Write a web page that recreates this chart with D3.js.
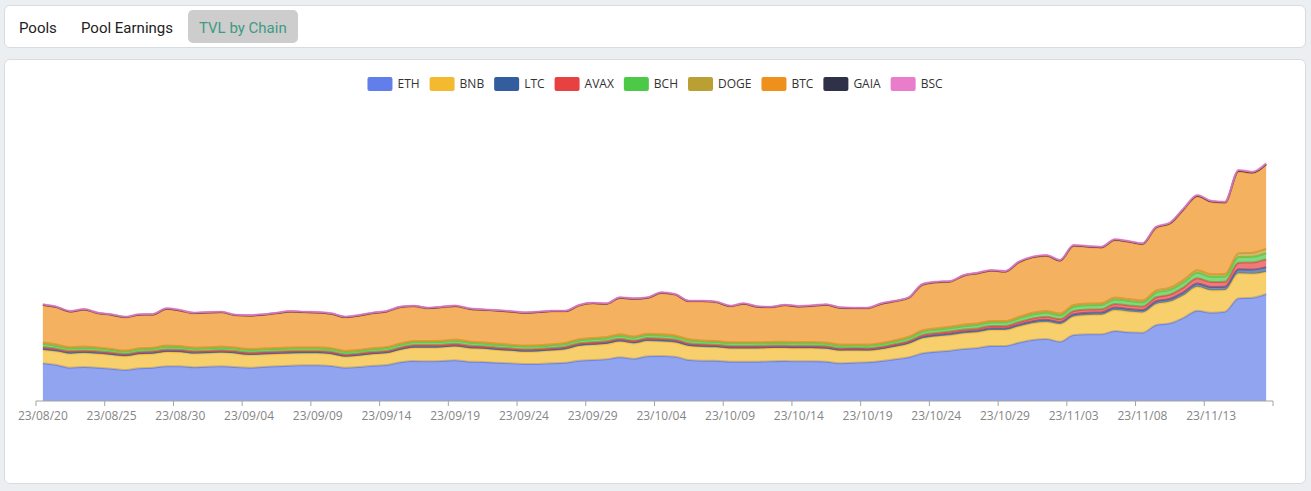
<!DOCTYPE html>
<html>
<head>
<meta charset="utf-8">
<script src="https://cdn.jsdelivr.net/npm/d3@7"></script>
<style>
  html, body { margin: 0; padding: 0; width: 1311px; height: 491px; overflow: hidden; background: #eceff1; font-family: Roboto, "Liberation Sans", sans-serif; }
  .tabs { position: absolute; left: 4px; top: 5px; width: 1300px; height: 41px; background: #fff; border: 1px solid #d9dcdf; border-radius: 6px; }
  .tab { position: absolute; top: 4px; height: 31px; padding-top: 2px; line-height: 33px; font-size: 15px; color: #222; padding-left: 11px; padding-right: 11px; border-radius: 5px; white-space: nowrap; }
  .tab.active { background: #cdcdcd; color: #3f9a84; }
  .card { position: absolute; left: 4px; top: 59px; width: 1300px; height: 423px; background: #fff; border: 1px solid #d9dcdf; border-radius: 6px; }
  #chart { position: absolute; left: 0; top: 0; }
</style>
</head>
<body>
<div class="tabs">
  <div class="tab" style="left:3px">Pools</div>
  <div class="tab" style="left:65px">Pool Earnings</div>
  <div class="tab active" style="left:183px">TVL by Chain</div>
</div>
<div class="card"></div>
<svg id="chart" width="1311" height="491"></svg>
<script>
// categories: one per day, 23/08/20 .. 23/11/17
const dates = [
  "23/08/20","23/08/21","23/08/22","23/08/23","23/08/24","23/08/25","23/08/26","23/08/27","23/08/28","23/08/29",
  "23/08/30","23/08/31","23/09/01","23/09/02","23/09/03","23/09/04","23/09/05","23/09/06","23/09/07","23/09/08",
  "23/09/09","23/09/10","23/09/11","23/09/12","23/09/13","23/09/14","23/09/15","23/09/16","23/09/17","23/09/18",
  "23/09/19","23/09/20","23/09/21","23/09/22","23/09/23","23/09/24","23/09/25","23/09/26","23/09/27","23/09/28",
  "23/09/29","23/09/30","23/10/01","23/10/02","23/10/03","23/10/04","23/10/05","23/10/06","23/10/07","23/10/08",
  "23/10/09","23/10/10","23/10/11","23/10/12","23/10/13","23/10/14","23/10/15","23/10/16","23/10/17","23/10/18",
  "23/10/19","23/10/20","23/10/21","23/10/22","23/10/23","23/10/24","23/10/25","23/10/26","23/10/27","23/10/28",
  "23/10/29","23/10/30","23/10/31","23/11/01","23/11/02","23/11/03","23/11/04","23/11/05","23/11/06","23/11/07",
  "23/11/08","23/11/09","23/11/10","23/11/11","23/11/12","23/11/13","23/11/14","23/11/15","23/11/16","23/11/17"
];

const chains = ["ETH", "BNB", "LTC", "AVAX", "BCH", "DOGE", "BTC", "GAIA", "BSC"];
const colors = ["#627eea", "#f3ba2f", "#345d9d", "#e84142", "#4cc947", "#ba9f33", "#f0901c", "#2e3148", "#ea7ccc"];

// TVL per chain (arbitrary units)
const eth = [
  37.7,36,33.3,34,33.3,32.3,31,32.7,33.3,34.7,
  34.7,33.7,34.3,34.7,34,33.3,34,34.7,35.3,35.7,
  35.7,35,33.3,34,35.3,36,38.7,40,39.7,40,
  40.7,39.3,39,38.3,37.7,37,37,37.7,38.3,40.3,
  41,41.7,43.7,42.3,44.7,45,44.3,41,40.3,40.3,
  39.3,39.3,39.3,39.7,40,39.7,39.7,39.3,37.7,38.3,
  38.7,40,41.7,43.7,47.7,49.3,50.3,52,53,55,
  55,58.3,61,62,59.3,66,66.7,66.7,70,68.7,
  68.3,76,77.7,83.3,90.3,88.3,89.3,102.7,103.3,107
];
const bnb = [
  13.3,13.5,14,14,14,13.7,13.7,14,14,14.3,
  14,13.7,13.5,13.7,13.5,12.7,12.5,12.3,12.2,12,
  12,11.8,11,11.3,11.5,11.7,12.3,13.3,13.5,13.5,
  13.7,13.5,13.2,12.8,12.5,12.3,12.5,12.8,13.3,14.7,
  15,15.2,15.7,15.3,15.3,14.5,14.3,14,13.8,13.5,
  13.3,13.3,13.2,13.2,13,13,13,12.9,12.7,12.2,
  11.7,11.7,12.5,13.5,15,15.3,15.5,15.7,15.8,16,
  16,16.3,16.7,17,17.7,18.5,19.3,19.5,21,20.8,
  20.3,21,21.7,22.5,24,22.5,21.7,25,24,22.3
];
const ltc = [
  1.5,1.4,1.3,1.3,1.3,1.2,1.2,1.2,1.2,1.3,
  1.3,1.2,1.2,1.2,1.2,1.2,1.2,1.2,1.2,1.2,
  1.2,1.2,1.1,1.1,1.2,1.2,1.3,1.3,1.3,1.3,
  1.4,1.3,1.3,1.2,1.2,1.2,1.2,1.2,1.3,1.3,
  1.4,1.4,1.4,1.4,1.4,1.4,1.4,1.3,1.3,1.2,
  1.2,1.2,1.2,1.2,1.2,1.2,1.2,1.2,1.2,1.2,
  1.2,1.2,1.3,1.4,1.6,1.6,1.7,1.7,1.7,1.8,
  1.8,1.9,2.1,2.2,2.1,2.3,2.3,2.3,2.5,2.5,
  2.4,2.7,2.8,3.1,3.3,3.2,3.2,4,4.2,4.6
];
const avax = [
  1.5,1.4,1.3,1.3,1.2,1.2,1.1,1.2,1.2,1.3,
  1.2,1.2,1.2,1.2,1.2,1.2,1.2,1.2,1.2,1.2,
  1.2,1.2,1.2,1.2,1.2,1.2,1.3,1.4,1.4,1.4,
  1.4,1.4,1.3,1.3,1.3,1.3,1.3,1.3,1.3,1.4,
  1.4,1.4,1.5,1.4,1.5,1.5,1.4,1.4,1.3,1.3,
  1.3,1.3,1.3,1.3,1.3,1.3,1.3,1.3,1.2,1.2,
  1.2,1.3,1.4,1.5,1.8,1.9,2,2,2.1,2.2,
  2.2,2.4,2.8,3,2.8,3.2,3.2,3.2,3.6,3.6,
  3.4,4,4.2,4.8,5.2,5,5,6.6,7,7.8
];
const bch = [
  3,2.8,2.6,2.6,2.6,2.5,2.4,2.5,2.5,2.7,
  2.6,2.5,2.5,2.5,2.5,2.5,2.5,2.5,2.5,2.5,
  2.5,2.5,2.4,2.4,2.5,2.6,2.7,2.8,2.8,2.8,
  2.9,2.8,2.7,2.6,2.6,2.6,2.6,2.6,2.7,2.8,
  2.9,2.9,3,2.9,3,3,2.9,2.8,2.7,2.6,
  2.6,2.6,2.6,2.6,2.6,2.6,2.6,2.6,2.5,2.5,
  2.5,2.5,2.6,2.8,3.1,3.2,3.3,3.4,3.4,3.5,
  3.5,3.6,3.9,4,3.9,4.2,4.2,4.2,4.5,4.5,
  4.3,4.7,4.8,5.1,5.4,5.3,5.3,5.6,5.8,6
];
const doge = [
  1.5,1.4,1.3,1.3,1.2,1.1,1,1.1,1.1,1.2,
  1.2,1.1,1.1,1.1,1.1,1.1,1.1,1.1,1.1,1.1,
  1.1,1.1,1.1,1.1,1.1,1.2,1.2,1.3,1.3,1.3,
  1.3,1.3,1.2,1.2,1.1,1.1,1.1,1.2,1.2,1.3,
  1.3,1.3,1.4,1.3,1.4,1.4,1.3,1.3,1.2,1.2,
  1.1,1.1,1.1,1.1,1.1,1.1,1.1,1.1,1.1,1.1,
  1.1,1.2,1.2,1.3,1.5,1.5,1.5,1.6,1.6,1.5,
  1.5,1.6,1.7,1.8,1.7,1.8,1.8,1.8,1.9,1.9,
  1.9,2.1,2.2,2.5,2.6,2.5,2.5,3.8,4,4.6
];
const btc = [
  37.5,37.1,35.5,36.8,34,34,33.2,33.3,33,36.5,
  35.3,34.2,34.5,34.2,32.1,33.3,33.5,34.6,35.8,34.9,
  34.6,34.2,33.5,34.2,34.8,35.4,36.1,34.5,32.6,33.3,
  33.4,32.4,32.3,32.9,32.9,32.5,32.9,32.8,31.5,33.5,
  34.6,33.1,36.3,37.4,35.7,41.2,40.7,37.8,39,38.5,
  35.8,38.2,35.3,34.5,36.4,35.4,36.1,37.6,36.6,36.1,
  36.2,39.1,38.9,38.8,45.5,45.7,44.9,48.8,49.9,50.2,
  49.2,54.3,55.2,55.1,52.6,59,56.5,55.6,57.2,57,
  56.1,62.7,63.8,70.2,74,72.3,71.1,81.9,79.6,84
];
const gaia = [
  0.3,0.3,0.3,0.3,0.3,0.3,0.3,0.3,0.3,0.3,
  0.3,0.3,0.3,0.3,0.3,0.3,0.3,0.3,0.3,0.3,
  0.3,0.3,0.3,0.3,0.3,0.3,0.3,0.3,0.3,0.3,
  0.3,0.3,0.3,0.3,0.3,0.3,0.3,0.3,0.3,0.3,
  0.3,0.3,0.3,0.3,0.3,0.3,0.3,0.3,0.3,0.3,
  0.3,0.3,0.3,0.3,0.3,0.3,0.3,0.3,0.3,0.3,
  0.3,0.3,0.3,0.3,0.35,0.35,0.35,0.35,0.35,0.35,
  0.35,0.45,0.45,0.45,0.45,0.45,0.45,0.45,0.45,0.45,
  0.45,0.55,0.55,0.55,0.55,0.55,0.55,0.7,0.7,0.7
];
const bsc = [
  0.4,0.4,0.4,0.4,0.4,0.4,0.4,0.4,0.4,0.4,
  0.4,0.4,0.4,0.4,0.4,0.4,0.4,0.4,0.4,0.4,
  0.4,0.4,0.4,0.4,0.4,0.4,0.4,0.4,0.4,0.4,
  0.4,0.4,0.4,0.4,0.4,0.4,0.4,0.4,0.4,0.4,
  0.4,0.4,0.4,0.4,0.4,0.4,0.4,0.4,0.4,0.4,
  0.4,0.4,0.4,0.4,0.4,0.4,0.4,0.4,0.4,0.4,
  0.4,0.4,0.4,0.4,0.45,0.45,0.45,0.45,0.45,0.45,
  0.45,0.55,0.55,0.55,0.55,0.55,0.55,0.55,0.55,0.55,
  0.55,0.55,0.55,0.55,0.55,0.55,0.55,0.7,0.7,0.7
];
const seriesValues = [eth, bnb, ltc, avax, bch, doge, btc, gaia, bsc];

// 组装成行数据给 d3.stack 用
const rows = dates.map((d, i) => {
  const r = { date: d };
  chains.forEach((c, k) => { r[c] = seriesValues[k][i]; });
  return r;
});

const svg = d3.select('#chart');

const plot = { left: 36, right: 1273, top: 101, bottom: 401 };
const yMax = 300;

const x = d3.scaleBand().domain(dates).range([plot.left, plot.right]).padding(0);
const y = d3.scaleLinear().domain([0, yMax]).range([plot.bottom, plot.top]);
const cx = d => x(d) + x.bandwidth() / 2;

const stacked = d3.stack().keys(chains)(rows);

const area = d3.area()
  .x(d => cx(d.data.date))
  .y0(d => y(d[0]))
  .y1(d => y(d[1]))
  .curve(d3.curveMonotoneX);

const line = d3.line()
  .x(d => cx(d.data.date))
  .y(d => y(d[1]))
  .curve(d3.curveMonotoneX);

// 每个系列：先面积再线
const layers = svg.append('g').selectAll('g')
  .data(stacked)
  .enter().append('g');

layers.append('path')
  .attr('d', area)
  .attr('fill', (d, i) => colors[i])
  .attr('fill-opacity', 0.7);

layers.append('path')
  .attr('d', line)
  .attr('fill', 'none')
  .attr('stroke', (d, i) => colors[i])
  .attr('stroke-width', 2)
  .attr('stroke-opacity', 0.8)
  .attr('stroke-linejoin', 'round');

// x 轴（刻度在分类边界，标签在分类中心，每5天一个）
const axis = svg.append('g');
axis.append('line')
  .attr('x1', plot.left).attr('x2', plot.right)
  .attr('y1', plot.bottom).attr('y2', plot.bottom)
  .attr('stroke', '#a3a3a3');

const shown = dates.filter((d, i) => i % 5 === 0);
axis.selectAll('.tick')
  .data(shown.map(d => x(d)).concat([plot.right]))
  .enter().append('line')
  .attr('x1', d => d).attr('x2', d => d)
  .attr('y1', plot.bottom).attr('y2', plot.bottom + 5)
  .attr('stroke', '#a3a3a3');

axis.selectAll('.lbl')
  .data(shown)
  .enter().append('text')
  .attr('x', d => cx(d))
  .attr('y', plot.bottom + 19)
  .attr('text-anchor', 'middle')
  .style('font-family', '"Open Sans", "Liberation Sans", sans-serif')
  .style('font-size', '12px')
  .style('fill', '#858585')
  .text(d => d);

// 图例，居中
const legend = svg.append('g');
const items = legend.selectAll('g')
  .data(chains)
  .enter().append('g');
items.append('rect')
  .attr('width', 25).attr('height', 14)
  .attr('rx', 2)
  .attr('y', 77)
  .attr('fill', (d, i) => colors[i]);
items.append('text')
  .attr('x', 30)
  .attr('y', 84)
  .attr('dy', '0.35em')
  .style('font-family', '"Open Sans", "Liberation Sans", sans-serif')
  .style('font-size', '12px')
  .style('fill', '#333')
  .text(d => d);

const widths = [];
items.each(function () {
  widths.push(30 + this.querySelector('text').getComputedTextLength());
});
const total = d3.sum(widths) + 10 * (widths.length - 1);
let pos = 655 - total / 2;
items.attr('transform', (d, i) => {
  const t = `translate(${pos},0)`;
  pos += widths[i] + 10;
  return t;
});
</script>
</body>
</html>
